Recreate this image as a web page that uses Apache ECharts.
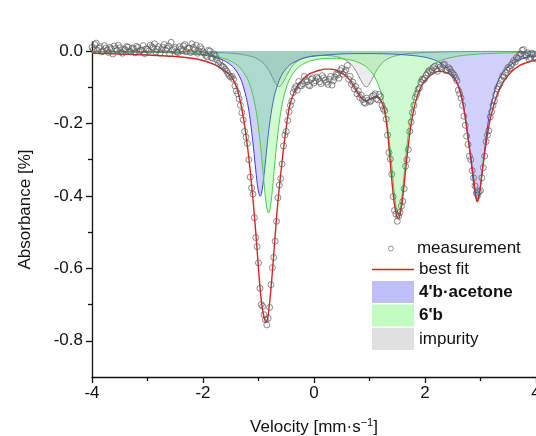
<!DOCTYPE html>
<html>
<head>
<meta charset="utf-8">
<script src="https://cdn.jsdelivr.net/npm/echarts@6/dist/echarts.min.js"></script>
<style>html,body{margin:0;padding:0;background:#fff}#c{width:536px;height:436px}</style>
</head>
<body>
<div id="c"></div>
<script>
// ---- data ----
const yTicks = [0, -0.2, -0.4, -0.6, -0.8];
const yMinorTicks = [-0.1, -0.3, -0.5, -0.7];

// measured points, first channel set
const measV = [-4.00,-3.95,-3.90,-3.85,-3.80,-3.75,-3.70,-3.65,-3.60,-3.55,-3.50,-3.45,-3.40,-3.35,-3.30,-3.25,-3.20,-3.15,-3.10,-3.05,-3.00,
-2.95,-2.90,-2.85,-2.80,-2.75,-2.70,-2.65,-2.60,-2.55,-2.50,-2.45,-2.40,-2.35,-2.30,-2.25,-2.20,-2.15,-2.10,-2.05,-2.00,
-1.95,-1.90,-1.85,-1.80,-1.75,-1.70,-1.65,-1.60,-1.55,-1.50,-1.45,-1.40,-1.35,-1.30,-1.25,-1.20,-1.15,-1.10,-1.05,-1.00,
-0.95,-0.90,-0.85,-0.80,-0.75,-0.70,-0.65,-0.60,-0.55,-0.50,-0.45,-0.40,-0.35,-0.30,-0.25,-0.20,-0.15,-0.10,-0.05,0.00,
0.05,0.10,0.15,0.20,0.25,0.30,0.35,0.40,0.45,0.50,0.55,0.60,0.65,0.70,0.75,0.80,0.85,0.90,0.95,1.00,
1.05,1.10,1.15,1.20,1.25,1.30,1.35,1.40,1.45,1.50,1.55,1.60,1.65,1.70,1.75,1.80,1.85,1.90,1.95,2.00,
2.05,2.10,2.15,2.20,2.25,2.30,2.35,2.40,2.45,2.50,2.55,2.60,2.65,2.70,2.75,2.80,2.85,2.90,2.95,3.00,
3.05,3.10,3.15,3.20,3.25,3.30,3.35,3.40,3.45,3.50,3.55,3.60,3.65,3.70,3.75,3.80,3.85,3.90,3.95,4.00];
const measA = [0.010,0.018,0.002,0.012,0.000,0.008,-0.004,0.006,0.014,0.002,0.009,-0.006,0.004,0.011,-0.002,0.006,0.013,-0.001,0.003,-0.007,0.005,
0.016,0.009,-0.003,0.012,0.004,0.018,0.008,-0.008,0.002,0.010,-0.004,0.006,0.014,-0.002,0.008,0.020,0.004,-0.006,0.012,-0.002,
-0.012,0.002,-0.018,-0.008,-0.024,-0.030,-0.042,-0.050,-0.062,-0.072,-0.078,-0.110,-0.132,-0.170,-0.222,-0.255,-0.348,-0.395,-0.515,-0.585,
-0.700,-0.728,-0.756,-0.708,-0.598,-0.525,-0.405,-0.352,-0.262,-0.222,-0.168,-0.138,-0.104,-0.108,-0.095,-0.090,-0.080,-0.094,-0.078,-0.088,
-0.072,-0.085,-0.068,-0.080,-0.092,-0.070,-0.082,-0.064,-0.075,-0.048,-0.058,-0.040,-0.070,-0.086,-0.098,-0.110,-0.122,-0.142,-0.130,-0.140,
-0.125,-0.118,-0.135,-0.126,-0.160,-0.188,-0.280,-0.340,-0.440,-0.470,-0.445,-0.415,-0.318,-0.272,-0.196,-0.150,-0.118,-0.102,-0.078,-0.075,
-0.060,-0.058,-0.046,-0.050,-0.040,-0.048,-0.036,-0.052,-0.050,-0.062,-0.074,-0.108,-0.130,-0.180,-0.235,-0.290,-0.330,-0.372,-0.398,-0.385,
-0.322,-0.250,-0.220,-0.168,-0.138,-0.105,-0.090,-0.068,-0.060,-0.045,-0.040,-0.026,-0.018,-0.012,0.002,-0.010,-0.005,-0.018,-0.010,-0.022];

// measured points, second (interleaved) channel set
const measV2 = [-3.975,-3.925,-3.875,-3.825,-3.775,-3.725,-3.675,-3.625,-3.575,-3.525,-3.475,-3.425,-3.375,-3.325,-3.275,-3.225,-3.175,-3.125,-3.075,-3.025,
-2.975,-2.925,-2.875,-2.825,-2.775,-2.725,-2.675,-2.625,-2.575,-2.525,-2.475,-2.425,-2.375,-2.325,-2.275,-2.225,-2.175,-2.125,-2.075,-2.025,
-1.975,-1.925,-1.875,-1.825,-1.775,-1.725,-1.675,-1.625,-1.575,-1.525,-1.475,-1.425,-1.375,-1.325,-1.275,-1.225,-1.175,-1.125,-1.075,-1.025,
-0.975,-0.925,-0.875,-0.825,-0.775,-0.725,-0.675,-0.625,-0.575,-0.525,-0.475,-0.425,-0.375,-0.325,-0.275,-0.225,-0.175,-0.125,-0.075,-0.025,
0.025,0.075,0.125,0.175,0.225,0.275,0.325,0.375,0.425,0.475,0.525,0.575,0.625,0.675,0.725,0.775,0.825,0.875,0.925,0.975,
1.025,1.075,1.125,1.175,1.225,1.275,1.325,1.375,1.425,1.475,1.525,1.575,1.625,1.675,1.725,1.775,1.825,1.875,1.925,1.975,
2.025,2.075,2.125,2.175,2.225,2.275,2.325,2.375,2.425,2.475,2.525,2.575,2.625,2.675,2.725,2.775,2.825,2.875,2.925,2.975,
3.025,3.075,3.125,3.175,3.225,3.275,3.325,3.375,3.425,3.475,3.525,3.575,3.625,3.675,3.725,3.775,3.825,3.875,3.925,3.975];
const measA2 = [0.004,0.022,0.008,-0.002,0.015,0.003,0.010,-0.008,0.007,0.016,-0.003,0.005,0.012,0.000,0.008,-0.005,0.010,0.002,0.015,0.006,
0.000,0.012,0.020,0.005,-0.006,0.010,0.003,0.014,0.024,0.006,-0.002,0.012,0.002,0.018,0.008,-0.004,0.010,0.016,0.000,0.006,
-0.006,-0.016,0.000,-0.020,-0.014,-0.034,-0.040,-0.045,-0.055,-0.068,-0.070,-0.096,-0.118,-0.150,-0.190,-0.238,-0.300,-0.378,-0.460,-0.540,
-0.655,-0.705,-0.742,-0.738,-0.645,-0.570,-0.470,-0.370,-0.312,-0.232,-0.192,-0.150,-0.115,-0.098,-0.084,-0.096,-0.070,-0.085,-0.096,-0.074,
-0.082,-0.076,-0.090,-0.074,-0.086,-0.078,-0.094,-0.072,-0.066,-0.054,-0.064,-0.052,-0.078,-0.092,-0.104,-0.118,-0.128,-0.134,-0.144,-0.136,
-0.138,-0.122,-0.132,-0.120,-0.150,-0.165,-0.232,-0.298,-0.402,-0.450,-0.456,-0.428,-0.380,-0.300,-0.222,-0.170,-0.128,-0.106,-0.086,-0.080,
-0.066,-0.054,-0.052,-0.042,-0.056,-0.044,-0.038,-0.054,-0.046,-0.058,-0.066,-0.082,-0.118,-0.150,-0.205,-0.258,-0.300,-0.350,-0.392,-0.388,
-0.350,-0.290,-0.232,-0.182,-0.150,-0.120,-0.098,-0.080,-0.072,-0.052,-0.048,-0.034,-0.030,-0.020,-0.008,0.004,-0.014,-0.022,-0.006,-0.016];

const fitV = [-4.0,-3.5,-3.0,-2.5,-2.2,-2.0,-1.8,-1.65,-1.5,-1.42,-1.36,-1.3,-1.25,-1.2,-1.15,-1.1,-1.06,-1.02,-0.98,-0.94,
-0.9,-0.865,-0.83,-0.79,-0.75,-0.71,-0.67,-0.63,-0.59,-0.55,-0.5,-0.45,-0.4,-0.3,-0.2,-0.1,0.0,0.1,0.2,0.3,
0.4,0.5,0.6,0.7,0.8,0.88,0.95,1.02,1.1,1.17,1.23,1.28,1.33,1.37,1.41,1.45,1.49,1.52,1.55,1.59,
1.63,1.67,1.72,1.78,1.85,1.95,2.1,2.25,2.4,2.5,2.6,2.66,2.72,2.78,2.83,2.87,2.91,2.94,2.97,3.01,
3.05,3.1,3.16,3.22,3.3,3.4,3.55,3.7,3.85,4.0];
const fitA = [-0.006,-0.008,-0.011,-0.015,-0.020,-0.026,-0.037,-0.050,-0.068,-0.090,-0.118,-0.160,-0.205,-0.262,-0.330,-0.410,-0.480,-0.560,-0.640,-0.700,
-0.735,-0.748,-0.733,-0.680,-0.610,-0.530,-0.450,-0.385,-0.325,-0.270,-0.210,-0.160,-0.130,-0.097,-0.078,-0.065,-0.058,-0.053,-0.050,-0.050,
-0.053,-0.060,-0.072,-0.092,-0.118,-0.134,-0.138,-0.132,-0.127,-0.130,-0.145,-0.172,-0.230,-0.300,-0.370,-0.425,-0.455,-0.462,-0.452,-0.415,
-0.360,-0.300,-0.235,-0.175,-0.130,-0.093,-0.067,-0.056,-0.060,-0.070,-0.095,-0.125,-0.180,-0.246,-0.300,-0.345,-0.395,-0.416,-0.405,-0.360,
-0.310,-0.255,-0.200,-0.160,-0.120,-0.088,-0.058,-0.040,-0.031,-0.025];

const blueV = [-4,-3,-2.5,-2,-1.7,-1.5,-1.4,-1.3,-1.2,-1.15,-1.1,-1.06,-1.02,-0.99,-0.97,-0.95,-0.92,-0.88,-0.84,-0.8,
-0.75,-0.7,-0.6,-0.5,-0.4,-0.2,0,0.5,1,1.5,2,2.3,2.5,2.6,2.7,2.76,2.8,2.84,2.88,2.91,
2.94,2.97,3.0,3.04,3.08,3.12,3.18,3.3,3.4,3.6,3.8,4.0];
const blueA = [-0.002,-0.003,-0.005,-0.011,-0.021,-0.038,-0.055,-0.085,-0.142,-0.189,-0.253,-0.313,-0.369,-0.395,-0.401,-0.395,-0.369,-0.313,-0.253,-0.201,
-0.151,-0.115,-0.071,-0.048,-0.034,-0.020,-0.014,-0.008,-0.007,-0.009,-0.017,-0.034,-0.065,-0.098,-0.158,-0.217,-0.266,-0.321,-0.373,-0.400,
-0.410,-0.400,-0.373,-0.321,-0.266,-0.217,-0.158,-0.090,-0.060,-0.032,-0.019,-0.013];

const greenV = [-4,-3,-2.5,-2,-1.7,-1.5,-1.35,-1.2,-1.1,-1.02,-0.96,-0.92,-0.88,-0.85,-0.82,-0.79,-0.76,-0.72,-0.68,-0.62,
-0.55,-0.45,-0.3,-0.1,0.1,0.3,0.5,0.7,0.9,1.0,1.1,1.2,1.28,1.34,1.4,1.44,1.48,1.52,1.56,1.6,
1.64,1.7,1.76,1.84,1.95,2.1,2.3,2.6,3.0,3.5,4.0];
const greenA = [-0.002,-0.003,-0.005,-0.010,-0.017,-0.028,-0.043,-0.076,-0.122,-0.188,-0.267,-0.332,-0.397,-0.433,-0.447,-0.434,-0.398,-0.333,-0.268,-0.190,
-0.130,-0.081,-0.047,-0.029,-0.022,-0.020,-0.021,-0.026,-0.039,-0.052,-0.073,-0.111,-0.165,-0.228,-0.314,-0.379,-0.432,-0.453,-0.432,-0.379,
-0.314,-0.228,-0.165,-0.110,-0.070,-0.041,-0.025,-0.014,-0.008,-0.005,-0.003];

const grayV = [-4,-3,-2,-1.6,-1.3,-1.1,-1.0,-0.9,-0.8,-0.72,-0.66,-0.63,-0.6,-0.54,-0.46,-0.36,-0.2,0,0.2,0.4,
0.55,0.67,0.76,0.84,0.9,0.94,0.98,1.04,1.12,1.21,1.33,1.5,1.7,2.0,2.5,3.0,3.5,4.0];
const grayA = [-0.001,-0.001,-0.003,-0.005,-0.009,-0.016,-0.023,-0.035,-0.057,-0.082,-0.096,-0.098,-0.096,-0.082,-0.058,-0.036,-0.020,-0.013,-0.012,-0.015,
-0.023,-0.037,-0.056,-0.079,-0.095,-0.099,-0.095,-0.079,-0.055,-0.036,-0.021,-0.012,-0.007,-0.004,-0.002,-0.001,-0.001,-0.001];

// ---- chart ----
const zip = (a, b) => a.map((v, i) => [v, b[i]]);
const FONT = '"Liberation Sans", Arial, sans-serif';
const INK = '#111';
const chart = echarts.init(document.getElementById('c'), null, {renderer: 'canvas'});

function comp(name, v, a, line, fill, z) {
  return {
    name, type: 'line', data: zip(v, a), smooth: 0.3, symbol: 'none', z,
    lineStyle: {color: line, width: 1}, itemStyle: {color: fill},
    areaStyle: {color: fill, origin: 'auto'}, silent: true
  };
}

const legendText = {fontSize: 17, color: INK, fontFamily: FONT};

chart.setOption({
  animation: false,
  textStyle: {fontFamily: FONT},
  grid: {left: 92, right: 0, top: 42, bottom: 59, containLabel: false, outerBoundsMode: 'none'},
  xAxis: {
    type: 'value', min: -4, max: 4, interval: 2,
    name: 'Velocity [mm·s{sup|\u22121}]', nameLocation: 'middle', nameGap: 40,
    nameTextStyle: {fontSize: 17, color: INK, fontFamily: FONT,
      rich: {sup: {fontSize: 11, verticalAlign: 'top', color: INK, fontFamily: FONT, padding: [0, 0, 9, 0]}}},
    axisLine: {onZero: false, lineStyle: {color: INK, width: 1.3}},
    axisTick: {length: 6, inside: false, lineStyle: {color: INK, width: 1.3}},
    minorTick: {show: true, splitNumber: 2, length: 4, lineStyle: {color: INK, width: 1.3}},
    axisLabel: {fontSize: 17, color: INK, margin: 8, fontFamily: FONT},
    splitLine: {show: false}
  },
  yAxis: [{
    type: 'value', min: -0.9, max: 0.025,
    name: 'Absorbance [%]', nameLocation: 'middle', nameGap: 58, nameRotate: 90,
    nameTextStyle: {fontSize: 17, color: INK, fontFamily: FONT},
    axisLine: {onZero: false, lineStyle: {color: INK, width: 1.3}},
    axisTick: {customValues: yTicks, length: 6, inside: false, lineStyle: {color: INK, width: 1.3}},
    axisLabel: {customValues: yTicks, fontSize: 17, color: INK, margin: 9, fontFamily: FONT,
      formatter: v => (Math.abs(v) < 1e-9 ? 0 : v).toFixed(1)},
    splitLine: {show: false}
  }, {
    type: 'value', min: -0.9, max: 0.025, position: 'left',
    axisLine: {show: false, onZero: false},
    axisTick: {show: true, customValues: yMinorTicks, length: 4, inside: false, lineStyle: {color: INK, width: 1.3}},
    axisLabel: {show: false},
    splitLine: {show: false}
  }],
  legend: [{
    orient: 'vertical', left: 388, top: 240, padding: 0,
    itemWidth: 42, itemHeight: 5, selectedMode: false,
    textStyle: legendText,
    data: [{name: 'measurement', itemStyle: {color: 'rgba(255,255,255,0)', borderColor: '#5c5c5c', borderWidth: 0.8}}]
  }, {
    orient: 'vertical', left: 372, top: 261, padding: 0,
    itemWidth: 42, itemHeight: 1.5, selectedMode: false,
    textStyle: legendText,
    data: [{name: 'best fit', icon: 'rect', itemStyle: {color: '#dd2222', borderWidth: 0}}]
  }, {
    orient: 'vertical', left: 372, top: 281, padding: 0,
    itemWidth: 42, itemHeight: 22, itemGap: 1.5, selectedMode: false,
    textStyle: legendText,
    data: [
      {name: "4'b·acetone", icon: 'rect', itemStyle: {color: '#c0c0f8', borderWidth: 0}, textStyle: {fontWeight: 'bold'}},
      {name: "6'b", icon: 'rect', itemStyle: {color: '#c2fcc2', borderWidth: 0}, textStyle: {fontWeight: 'bold'}},
      {name: 'impurity', icon: 'rect', itemStyle: {color: '#e0e0e0', borderWidth: 0}}
    ]
  }],
  series: [
    comp('impurity', grayV, grayA, 'rgb(140,140,140)', 'rgba(150,150,150,0.25)', 1),
    comp("4'b·acetone", blueV, blueA, 'rgb(60,60,215)', 'rgba(80,80,240,0.38)', 2),
    comp("6'b", greenV, greenA, 'rgb(70,205,70)', 'rgba(80,240,80,0.38)', 3),
    {
      name: 'best fit', type: 'line', data: zip(fitV, fitA), smooth: 0.3, symbol: 'none', z: 5,
      lineStyle: {color: '#dd2222', width: 1.4}, itemStyle: {color: '#dd2222'}
    },
    {
      name: 'measurement', type: 'scatter', data: zip(measV, measA).concat(zip(measV2, measA2)), z: 6,
      symbol: 'circle', symbolSize: 6,
      itemStyle: {color: 'rgba(255,255,255,0)', borderColor: '#5c5c5c', borderWidth: 0.9}
    }
  ]
});
</script>
</body>
</html>
